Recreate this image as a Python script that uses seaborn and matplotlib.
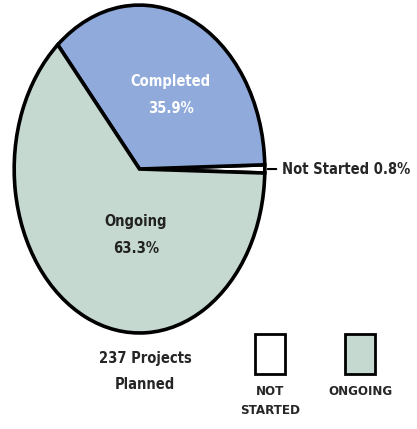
import matplotlib
matplotlib.use('Agg')
import matplotlib.pyplot as plt
from matplotlib.patches import Rectangle
import seaborn as sns

# Project status data
statuses = ['Not Started', 'Completed', 'Ongoing']
shares = [0.8, 35.9, 63.3]
colors = ['#ffffff', '#8faadb', '#c5d9d0']
total_projects = 237

sns.set_theme(style='white')
plt.rcParams['font.family'] = ['DejaVu Sans']

fig = plt.figure(figsize=(4.17, 4.29), dpi=100)
ax = fig.add_axes([0.031, 0.22, 0.607, 0.772])

wedges, _ = ax.pie(shares, colors=colors, startangle=-1.4, counterclock=True,
                   wedgeprops=dict(edgecolor='black', linewidth=2.6))
ax.set_aspect('auto')
ax.set_xlim(-1.01, 1.01)
ax.set_ylim(-1.01, 1.01)
ax.axis('off')

# Slice labels
ax.text(0.25, 0.45, f'{statuses[1]}\n{shares[1]}%', ha='center', va='center',
        color='white', fontsize=10.5, fontweight='bold', fontstretch='condensed',
        linespacing=2.0)
ax.text(-0.03, -0.4, f'{statuses[2]}\n{shares[2]}%', ha='center', va='center',
        color='#222222', fontsize=10.5, fontweight='bold', fontstretch='condensed',
        linespacing=2.0)
ax.annotate(f'{statuses[0]} {shares[0]}%', xy=(1.0, 0.0), xytext=(1.14, 0.0),
            ha='left', va='center', fontsize=10.5, fontweight='bold',
            fontstretch='condensed',
            arrowprops=dict(arrowstyle='-', color='black', lw=1.5),
            annotation_clip=False)

fig.text(0.348, 0.134, f'{total_projects} Projects\nPlanned', ha='center', va='center',
         fontsize=10.5, fontweight='bold', fontstretch='condensed', linespacing=1.9)

# Legend boxes
for x, col, lab in [(0.612, colors[0], 'NOT\nSTARTED'), (0.828, colors[2], 'ONGOING')]:
    fig.patches.append(Rectangle((x, 0.128), 0.072, 0.093, transform=fig.transFigure,
                                 facecolor=col, edgecolor='black', linewidth=2))
    fig.text(x + 0.036, 0.103, lab, ha='center', va='top', fontsize=9.5,
             fontweight='bold', fontstretch='condensed', linespacing=1.6)

fig.savefig('out.png', dpi=100)
